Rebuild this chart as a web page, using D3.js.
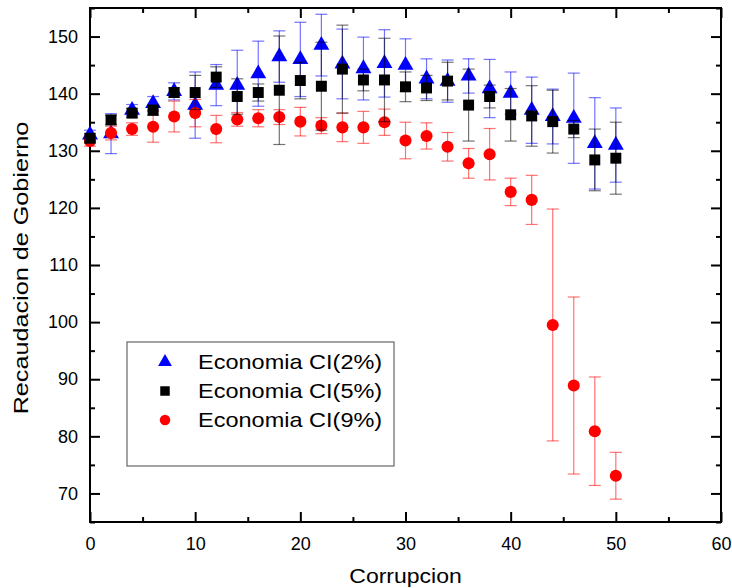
<!DOCTYPE html>
<html>
<head>
<meta charset="utf-8">
<script src="https://cdn.jsdelivr.net/npm/d3@7"></script>
<style>
  body { margin: 0; background: #fff; }
  svg { display: block; font-family: "Liberation Sans", Arial, sans-serif; }
</style>
</head>
<body>
<script>
// corrupcion values (x)
var xs = [0, 2, 4, 6, 8, 10, 12, 14, 16, 18, 20, 22, 24, 26, 28, 30, 32, 34, 36, 38, 40, 42, 44, 46, 48, 50];

// Economia CI(2%)
var ci2 = [132.8, 133.0, 137.1, 138.3, 140.4, 138.0, 141.5, 141.5, 143.5, 146.5, 146.0, 148.5, 145.2,
           144.4, 145.3, 145.0, 142.6, 142.2, 143.1, 140.9, 140.1, 137.1, 136.0, 135.7, 131.3, 131.0];
var ci2Err = [0.8, 3.5, 1.0, 1.2, 1.5, 5.8, 3.6, 6.1, 5.7, 4.5, 6.5, 5.4, 6.1,
              5.5, 5.9, 4.6, 3.5, 3.7, 3.0, 5.1, 3.7, 5.8, 4.8, 7.9, 8.0, 6.5];

// Economia CI(5%)
var ci5 = [132.2, 135.4, 136.6, 137.1, 140.2, 140.2, 142.9, 139.5, 140.2, 140.6, 142.3, 141.3, 144.3,
           142.4, 142.4, 141.2, 141.0, 142.2, 138.0, 139.5, 136.3, 136.1, 135.1, 133.8, 128.4, 128.7];
var ci5Err = [0.8, 0.8, 0.8, 0.9, 0.8, 3.0, 1.8, 3.1, 1.5, 9.5, 3.2, 7.7, 7.7,
              1.9, 7.3, 2.6, 2.2, 3.3, 6.3, 2.0, 4.6, 5.3, 5.5, 1.5, 5.4, 6.3];

// Economia CI(9%)
var ci9 = [131.7, 133.1, 133.8, 134.2, 136.0, 136.6, 133.8, 135.5, 135.7, 135.9, 135.1, 134.4, 134.1,
           134.1, 135.0, 131.8, 132.6, 130.7, 127.8, 129.4, 122.8, 121.4, 99.5, 88.9, 80.9, 73.1];
var ci9Err = [0.9, 1.2, 1.1, 2.7, 2.7, 2.4, 2.4, 1.2, 1.5, 1.3, 2.5, 1.4, 2.5,
              2.8, 2.3, 3.2, 2.3, 2.5, 2.6, 4.5, 2.4, 4.3, 20.3, 15.5, 9.5, 4.1];

var xMajor = [0, 10, 20, 30, 40, 50, 60];
var xMinor = [5, 15, 25, 35, 45, 55];
var yMajor = [70, 80, 90, 100, 110, 120, 130, 140, 150];
var yMinor = [65, 75, 85, 95, 105, 115, 125, 135, 145, 155];

var legendNames = ["Economia CI(2%)", "Economia CI(5%)", "Economia CI(9%)"];

var width = 732, height = 588;
var margin = {top: 8, right: 11, bottom: 66, left: 90};
var w = width - margin.left - margin.right;
var h = height - margin.top - margin.bottom;

var svg = d3.select("body").append("svg")
    .attr("width", width)
    .attr("height", height);

var g = svg.append("g")
    .attr("transform", "translate(" + margin.left + "," + margin.top + ")");

var x = d3.scaleLinear().domain([0, 60]).range([0, w]);
var y = d3.scaleLinear().domain([65, 155]).range([h, 0]);

// axes, ticks pointing inwards
function styleAxis(sel) {
    sel.select(".domain").remove();
    sel.selectAll("line").attr("stroke", "#000").attr("stroke-width", 2);
    sel.selectAll("text").attr("fill", "#000").style("font-size", "18px")
        .style("font-family", "'Liberation Sans', Arial, sans-serif");
}

g.append("g").attr("transform", "translate(0," + h + ")")
    .call(d3.axisBottom(x).tickValues(xMajor).tickSize(-10).tickPadding(15).tickFormat(d3.format("d")))
    .call(styleAxis);
g.append("g").attr("transform", "translate(0," + h + ")")
    .call(d3.axisBottom(x).tickValues(xMinor).tickSize(-5).tickFormat(""))
    .call(styleAxis);
g.append("g")
    .call(d3.axisTop(x).tickValues(xMajor).tickSize(-10).tickFormat(""))
    .call(styleAxis);
g.append("g")
    .call(d3.axisTop(x).tickValues(xMinor).tickSize(-5).tickFormat(""))
    .call(styleAxis);

g.append("g")
    .call(d3.axisLeft(y).tickValues(yMajor).tickSize(-10).tickPadding(12).tickFormat(d3.format("d")))
    .call(styleAxis);
g.append("g")
    .call(d3.axisLeft(y).tickValues(yMinor).tickSize(-5).tickFormat(""))
    .call(styleAxis);
g.append("g").attr("transform", "translate(" + w + ",0)")
    .call(d3.axisRight(y).tickValues(yMajor).tickSize(-10).tickFormat(""))
    .call(styleAxis);
g.append("g").attr("transform", "translate(" + w + ",0)")
    .call(d3.axisRight(y).tickValues(yMinor).tickSize(-5).tickFormat(""))
    .call(styleAxis);

// frame
g.append("rect")
    .attr("width", w).attr("height", h)
    .attr("fill", "none")
    .attr("stroke", "#000")
    .attr("stroke-width", 2);

// axis titles
svg.append("text")
    .attr("transform", "translate(" + (margin.left + x(30)) + ",583) scale(1.15,1)")
    .attr("text-anchor", "middle")
    .style("font-size", "20px")
    .text("Corrupcion");

svg.append("text")
    .attr("transform", "translate(28," + (margin.top + h / 2 + 3) + ") rotate(-90) scale(1.2,1)")
    .attr("text-anchor", "middle")
    .style("font-size", "21px")
    .text("Recaudacion de Gobierno");

var series = [
    {vals: ci2, err: ci2Err, color: "#0000ff", shape: d3.symbolTriangle, size: 110, idx: 0},
    {vals: ci9, err: ci9Err, color: "#ff0000", shape: d3.symbolCircle, size: 115, idx: 2},
    {vals: ci5, err: ci5Err, color: "#000000", shape: d3.symbolSquare, size: 120, idx: 1}
];

var plot = g.append("g");
var cap = 6;

series.forEach(function (s) {
    var sg = plot.append("g");
    var bars = sg.selectAll(".eb")
        .data(xs)
        .enter().append("g")
        .attr("stroke", s.color)
        .attr("stroke-opacity", 0.55)
        .attr("stroke-width", 1.2);
    bars.append("line")
        .attr("x1", function (d) { return x(d); })
        .attr("x2", function (d) { return x(d); })
        .attr("y1", function (d, i) { return y(s.vals[i] + s.err[i]); })
        .attr("y2", function (d, i) { return y(s.vals[i] - s.err[i]); });
    bars.append("line")
        .attr("x1", function (d) { return x(d) - cap; })
        .attr("x2", function (d) { return x(d) + cap; })
        .attr("y1", function (d, i) { return y(s.vals[i] + s.err[i]); })
        .attr("y2", function (d, i) { return y(s.vals[i] + s.err[i]); });
    bars.append("line")
        .attr("x1", function (d) { return x(d) - cap; })
        .attr("x2", function (d) { return x(d) + cap; })
        .attr("y1", function (d, i) { return y(s.vals[i] - s.err[i]); })
        .attr("y2", function (d, i) { return y(s.vals[i] - s.err[i]); });

    sg.selectAll(".pt")
        .data(xs)
        .enter().append("path")
        .attr("d", d3.symbol().type(s.shape).size(s.size))
        .attr("transform", function (d, i) { return "translate(" + x(d) + "," + y(s.vals[i]) + ")"; })
        .attr("fill", s.color);
});

// legend
var leg = svg.append("g").attr("transform", "translate(127,342)");
leg.append("rect")
    .attr("width", 267).attr("height", 124)
    .attr("fill", "#fff")
    .attr("stroke", "#666")
    .attr("stroke-width", 1.2);

var legOrder = [series[0], series[2], series[1]];
legOrder.forEach(function (s, i) {
    var row = leg.append("g").attr("transform", "translate(0," + (20 + i * 29) + ")");
    row.append("path")
        .attr("d", d3.symbol().type(s.shape).size(s.size * 0.75))
        .attr("transform", "translate(38,0)")
        .attr("fill", s.color);
    row.append("text")
        .attr("transform", "translate(71,7) scale(1.12,1)")
        .style("font-size", "21px")
        .text(legendNames[i]);
});
</script>
</body>
</html>
